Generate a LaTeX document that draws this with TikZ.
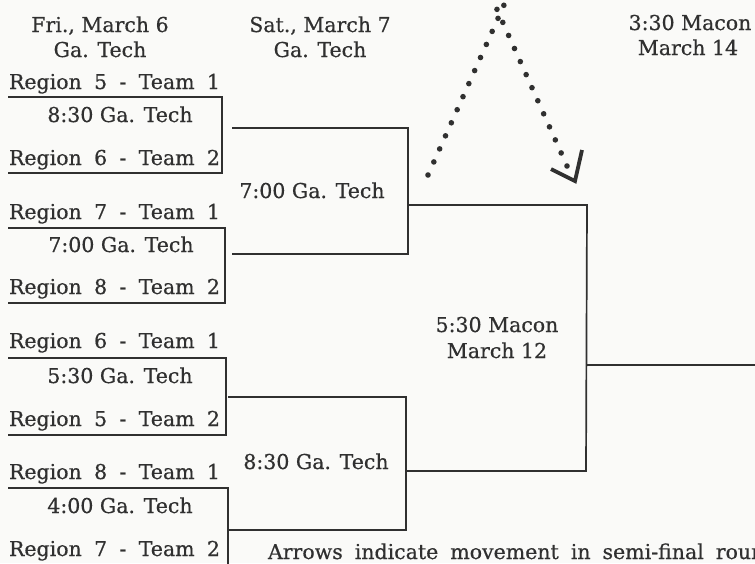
\documentclass[tikz,border=0pt]{standalone}
\usepackage{fontspec}
\setmainfont{DejaVu Serif}[FakeBold=0.6]
\definecolor{ink}{HTML}{303030}
\definecolor{paper}{HTML}{FAFAF8}
\newcommand{\rgn}[2]{\makebox[211pt][s]{Region #1 - Team #2}}
\tikzset{
  txt/.style={inner sep=0pt, outer sep=0pt, text=ink, font=\fontsize{20.5}{24}\selectfont},
  lbl/.style={txt, anchor=base west},
  ctr/.style={txt, anchor=base},
  brk/.style={draw=ink, line width=1.7pt, line cap=butt},
  dots/.style={draw=ink, line width=5.6pt, line cap=round, dash pattern=on 0pt off 14.3pt},
  vtip/.style={draw=ink, line width=3.8pt, line cap=butt, line join=miter}
}
\begin{document}
\begin{tikzpicture}[x=1pt,y=-1pt]
\useasboundingbox (0,0) rectangle (755,563);
\clip (0,0) rectangle (755,563);
\fill[paper] (0,0) rectangle (755,563);

% headers
\node[ctr] (h1a) at (100,32) {Fri., March 6};
\node[ctr] (h1b) at (100,57) {Ga. Tech};
\node[ctr] (h2a) at (320,32) {Sat., March 7};
\node[ctr] (h2b) at (320,57) {Ga. Tech};
\node[ctr] (h3a) at (690,30) {3:30 Macon};
\node[ctr] (h3b) at (688,55) {March 14};

% first round labels
\node[lbl] (r51) at (9,89) {\rgn{5}{1}};
\node[ctr] (g1) at (120,122) {8:30 Ga. Tech};
\node[lbl] (r62) at (9,165) {\rgn{6}{2}};
\node[lbl] (r71) at (9,219) {\rgn{7}{1}};
\node[ctr] (g2) at (121,252) {7:00 Ga. Tech};
\node[lbl] (r82) at (9,294) {\rgn{8}{2}};
\node[lbl] (r61) at (9,348) {\rgn{6}{1}};
\node[ctr] (g3) at (120,383) {5:30 Ga. Tech};
\node[lbl] (r52) at (9,426) {\rgn{5}{2}};
\node[lbl] (r81) at (9,479) {\rgn{8}{1}};
\node[ctr] (g4) at (120,513) {4:00 Ga. Tech};
\node[lbl] (r72) at (9,556) {\rgn{7}{2}};

% second round / semi labels
\node[ctr] (s1) at (312,198) {7:00 Ga. Tech};
\node[ctr] (s2) at (316,469) {8:30 Ga. Tech};
\node[ctr] (m1) at (497,332) {5:30 Macon};
\node[ctr] (m2) at (497,358) {March 12};

% footer
\node[lbl] (note) at (268,559) {\spaceskip=12pt Arrows indicate movement in semi-final round};

% bracket coordinates
\coordinate (a1) at (8,97);   \coordinate (a2) at (222,97);
\coordinate (a3) at (222,173); \coordinate (a4) at (8,173);
\coordinate (b1) at (8,228);  \coordinate (b2) at (225,228);
\coordinate (b3) at (225,303); \coordinate (b4) at (8,303);
\coordinate (c1) at (8,358);  \coordinate (c2) at (226,358);
\coordinate (c3) at (226,435); \coordinate (c4) at (8,435);
\coordinate (d1) at (8,488);  \coordinate (d2) at (228,488);
\coordinate (d3) at (228,565);
\coordinate (e1) at (232,128); \coordinate (e2) at (408,128);
\coordinate (e3) at (408,254); \coordinate (e4) at (232,254);
\coordinate (f1) at (228,397); \coordinate (f2) at (406,397);
\coordinate (f3) at (406,530); \coordinate (f4) at (228,530);
\coordinate (k1) at (408,205); \coordinate (k2) at (587,205);
\coordinate (k3) at (586,471); \coordinate (k4) at (406,471);
\coordinate (z1) at (586,365); \coordinate (z2) at (757,365);

\draw[brk] (a1) -- (a2) -- (a3) -- (a4);
\draw[brk] (b1) -- (b2) -- (b3) -- (b4);
\draw[brk] (c1) -- (c2) -- (c3) -- (c4);
\draw[brk] (d1) -- (d2) -- (d3);
\draw[brk] (e1) -- (e2) -- (e3) -- (e4);
\draw[brk] (f1) -- (f2) -- (f3) -- (f4);
\draw[brk] (k1) -- (k2) -- (k3) -- (k4);
\draw[brk] (z1) -- (z2);

% dotted arrows
\coordinate (p1) at (428,175); \coordinate (p2) at (508,-4);
\coordinate (q1) at (491,-4);  \coordinate (q2) at (567,166);
\draw[dots] (p1) -- (p2);
\draw[dots] (q2) -- (q1);
\coordinate (t1) at (551,169); \coordinate (t2) at (575,181); \coordinate (t3) at (582,150);
\draw[vtip] (t1) -- (t2) -- (t3);
\end{tikzpicture}
\end{document}
